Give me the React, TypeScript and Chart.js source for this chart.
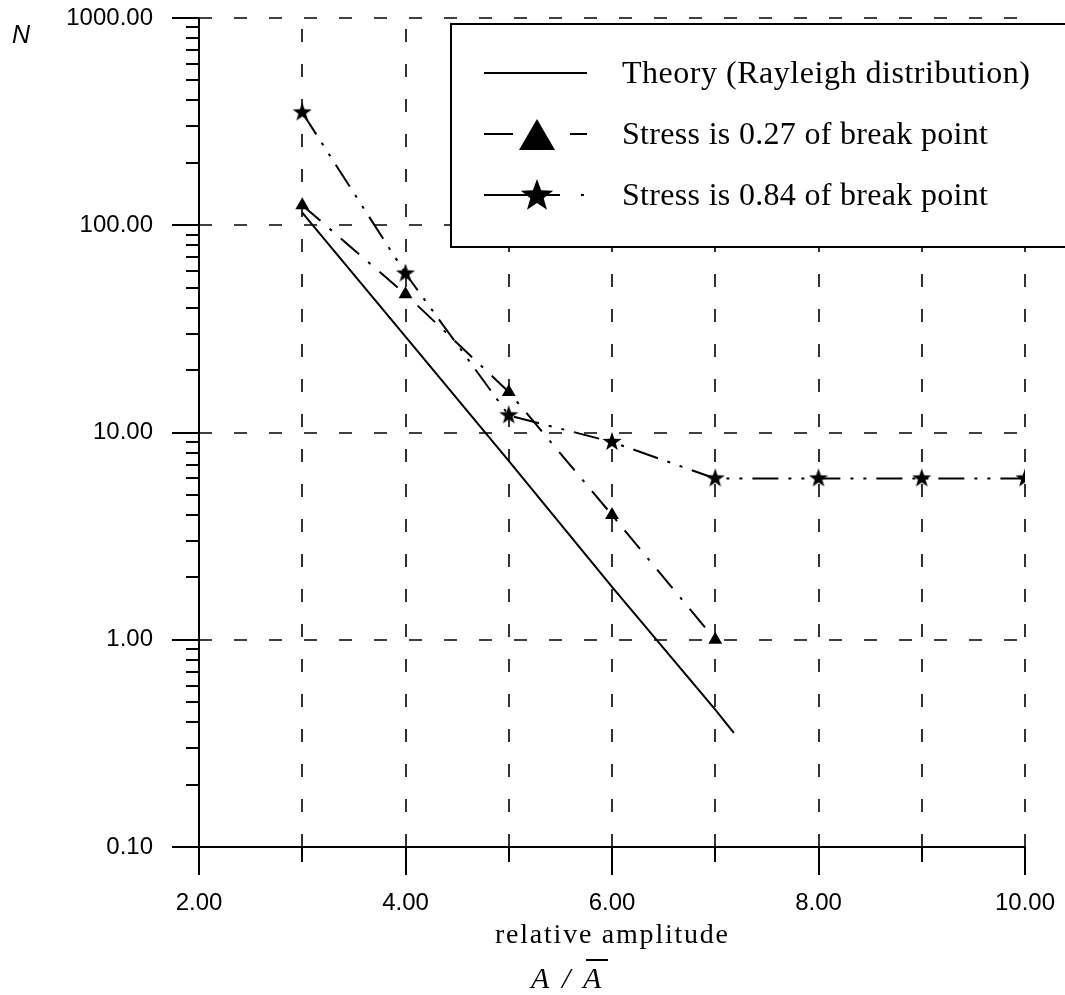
import React, { useEffect, useRef } from "react";
import { Chart, registerables } from "chart.js";
Chart.register(...registerables);

// ---- data ----
const theoryX = [3, 4, 5, 6, 7, 7.18];
const theoryN = [115, 29, 7.3, 1.8, 0.46, 0.355];
const amplitudes = [3, 4, 5, 6, 7, 8, 9, 10];
const stress027 = [125, 46.5, 15.7, 4.0, 1.0];
const stress084 = [350, 58.5, 12.1, 9.0, 6.0, 6.0, 6.0, 6.0];

const xTickValues = [2, 4, 6, 8, 10];
const xMinorTickValues = [3, 5, 7, 9];
const xGridValues = [3, 4, 5, 6, 7, 8, 9, 10];
const yTickValues = [0.1, 1, 10, 100, 1000];
const yGridValues = [1, 10, 100, 1000];
const yDecades = [0.1, 1, 10, 100];
const yMinorMultipliers = [2, 3, 4, 5, 6, 7, 8, 9];

const legendLabels = [
  "Theory (Rayleigh distribution)",
  "Stress is 0.27 of break point",
  "Stress is 0.84 of break point",
];
const xTitle = "relative amplitude";
const yTitle = "N";

function makeStar(size: number, outer: number, inner: number) {
  const c = document.createElement("canvas");
  c.width = size;
  c.height = size;
  const g = c.getContext("2d")!;
  drawStar(g, size / 2, size / 2, outer, inner);
  return c;
}

function drawStar(g: CanvasRenderingContext2D, cx: number, cy: number, outer: number, inner: number) {
  g.save();
  g.fillStyle = "#000";
  g.beginPath();
  for (let i = 0; i < 10; i++) {
    const r = i % 2 === 0 ? outer : inner;
    const a = -Math.PI / 2 + (i * Math.PI) / 5;
    const px = cx + r * Math.cos(a);
    const py = cy + r * Math.sin(a);
    if (i === 0) g.moveTo(px, py);
    else g.lineTo(px, py);
  }
  g.closePath();
  g.fill();
  g.restore();
}

function spacedText(ctx: CanvasRenderingContext2D, text: string, x: number, y: number, width: number, font: string) {
  ctx.font = font;
  const chars = [...text];
  const ws = chars.map((c) => ctx.measureText(c).width);
  const total = ws.reduce((a, b) => a + b, 0);
  const extra = chars.length > 1 ? (width - total) / (chars.length - 1) : 0;
  let cx = x;
  chars.forEach((c, i) => {
    ctx.fillText(c, cx, y);
    cx += ws[i] + extra;
  });
}

const decorPlugin = {
  id: "decor",
  beforeDatasetsDraw(chart: any) {
    const ctx: CanvasRenderingContext2D = chart.ctx;
    const xs = chart.scales.x;
    const ys = chart.scales.y;
    const { left, right, top, bottom } = chart.chartArea;
    ctx.save();
    ctx.strokeStyle = "#000";
    // dashed grid
    ctx.lineWidth = 1.6;
    ctx.setLineDash([13, 22]);
    ctx.beginPath();
    xGridValues.forEach((v) => {
      const px = Math.round(xs.getPixelForValue(v));
      ctx.moveTo(px, bottom);
      ctx.lineTo(px, top);
    });
    yGridValues.forEach((v) => {
      const py = Math.round(ys.getPixelForValue(v));
      ctx.moveTo(left, py);
      ctx.lineTo(right, py);
    });
    ctx.stroke();
    ctx.setLineDash([]);
    // axes
    ctx.lineWidth = 2;
    ctx.beginPath();
    ctx.moveTo(left, top);
    ctx.lineTo(left, bottom + 28);
    ctx.moveTo(left - 27, bottom);
    ctx.lineTo(right, bottom);
    // y major ticks
    yTickValues.forEach((v) => {
      const py = Math.round(ys.getPixelForValue(v));
      ctx.moveTo(left - 27, py);
      ctx.lineTo(left, py);
    });
    // x ticks
    xTickValues.forEach((v) => {
      const px = Math.round(xs.getPixelForValue(v));
      ctx.moveTo(px, bottom);
      ctx.lineTo(px, bottom + 28);
    });
    xMinorTickValues.forEach((v) => {
      const px = Math.round(xs.getPixelForValue(v));
      ctx.moveTo(px, bottom);
      ctx.lineTo(px, bottom + 15);
    });
    ctx.stroke();
    // y minor ticks
    ctx.lineWidth = 1.8;
    ctx.beginPath();
    yDecades.forEach((d) => {
      yMinorMultipliers.forEach((k) => {
        const py = Math.round(ys.getPixelForValue(d * k));
        ctx.moveTo(left - 13, py);
        ctx.lineTo(left, py);
      });
    });
    ctx.stroke();
    ctx.restore();
  },
  afterDraw(chart: any) {
    const ctx: CanvasRenderingContext2D = chart.ctx;
    ctx.save();
    // legend box
    ctx.fillStyle = "#fff";
    ctx.fillRect(451, 24, 640, 223);
    ctx.strokeStyle = "#000";
    ctx.lineWidth = 2;
    ctx.strokeRect(451, 24, 640, 223);
    // samples
    ctx.lineWidth = 2;
    ctx.beginPath();
    ctx.moveTo(484, 73);
    ctx.lineTo(587, 73);
    ctx.moveTo(484, 134);
    ctx.lineTo(513, 134);
    ctx.moveTo(570, 134);
    ctx.lineTo(587, 134);
    ctx.moveTo(484, 195);
    ctx.lineTo(560, 195);
    ctx.moveTo(581, 195);
    ctx.lineTo(584, 195);
    ctx.stroke();
    ctx.fillStyle = "#000";
    ctx.beginPath();
    ctx.moveTo(537, 119);
    ctx.lineTo(555, 150);
    ctx.lineTo(519, 150);
    ctx.closePath();
    ctx.fill();
    drawStar(ctx, 537, 196, 17, 7);
    // legend text
    ctx.fillStyle = "#000";
    ctx.textBaseline = "alphabetic";
    ctx.textAlign = "left";
    spacedText(ctx, legendLabels[0], 622, 83, 408, "32px 'Liberation Serif'");
    spacedText(ctx, legendLabels[1], 622, 144, 366, "32px 'Liberation Serif'");
    spacedText(ctx, legendLabels[2], 622, 205, 366, "32px 'Liberation Serif'");
    // axis titles
    spacedText(ctx, xTitle, 495, 943, 233, "28px 'Liberation Serif'");
    ctx.font = "italic 30px 'Liberation Serif'";
    ctx.fillText("A", 531, 988);
    ctx.fillText("/", 562, 988);
    ctx.fillText("A", 583, 988);
    ctx.lineWidth = 2;
    ctx.beginPath();
    ctx.moveTo(586, 960);
    ctx.lineTo(608, 960);
    ctx.stroke();
    ctx.font = "italic 25px 'Liberation Sans'";
    ctx.fillText(yTitle, 12, 43);
    ctx.restore();
  },
};

export default function App() {
  const ref = useRef<HTMLCanvasElement | null>(null);
  useEffect(() => {
    if (!ref.current) return;
    const star = makeStar(20, 10, 4);
    const chart = new Chart(ref.current, {
      type: "line",
      data: {
        datasets: [
          {
            label: legendLabels[0],
            data: theoryX.map((x, i) => ({ x, y: theoryN[i] })),
            borderColor: "#000",
            borderWidth: 2,
            pointRadius: 0,
            fill: false,
          },
          {
            label: legendLabels[1],
            data: stress027.map((y, i) => ({ x: amplitudes[i], y })),
            borderColor: "#000",
            backgroundColor: "#000",
            borderWidth: 2,
            borderDash: [24, 12, 3, 12],
            pointStyle: "triangle",
            pointRadius: 8,
            pointBorderWidth: 0,
            fill: false,
          },
          {
            label: legendLabels[2],
            data: stress084.map((y, i) => ({ x: amplitudes[i], y })),
            borderColor: "#000",
            backgroundColor: "#000",
            borderWidth: 2,
            borderDash: [26, 10, 3, 10, 3, 10],
            pointStyle: star as any,
            pointRadius: 10,
            fill: false,
          },
        ],
      },
      options: {
        responsive: false,
        animation: false,
        devicePixelRatio: 1,
        layout: { padding: { left: 0, top: 18, right: 40, bottom: 0 } },
        plugins: { legend: { display: false }, tooltip: { enabled: false } },
        scales: {
          x: {
            type: "linear",
            min: 2,
            max: 10,
            grid: { display: false, drawTicks: false },
            border: { display: false },
            afterBuildTicks: (s: any) => {
              s.ticks = xTickValues.map((v) => ({ value: v }));
            },
            afterFit: (s: any) => {
              s.height = 148;
              s.paddingLeft = 0;
              s.paddingRight = 0;
              s.paddingTop = 0;
              s.paddingBottom = 0;
            },
            ticks: {
              padding: 42,
              color: "#000",
              font: { family: "'Liberation Sans'", size: 24 },
              maxRotation: 0,
              callback: (v: any) => Number(v).toFixed(2),
            },
          },
          y: {
            type: "logarithmic",
            min: 0.1,
            max: 1000,
            grid: { display: false, drawTicks: false },
            border: { display: false },
            afterBuildTicks: (s: any) => {
              s.ticks = yTickValues.map((v) => ({ value: v }));
            },
            afterFit: (s: any) => {
              s.width = 199;
              s.paddingLeft = 0;
              s.paddingRight = 0;
              s.paddingTop = 0;
              s.paddingBottom = 0;
            },
            ticks: {
              padding: 46,
              color: "#000",
              font: { family: "'Liberation Sans'", size: 24 },
              callback: (v: any) => Number(v).toFixed(2),
            },
          },
        },
      },
      plugins: [decorPlugin],
    });
    return () => chart.destroy();
  }, []);
  return (
    <div style={{ position: "fixed", left: 0, top: 0, width: 1065, height: 995, background: "#fff" }}>
      <canvas ref={ref} width={1065} height={995} style={{ display: "block" }} />
    </div>
  );
}
